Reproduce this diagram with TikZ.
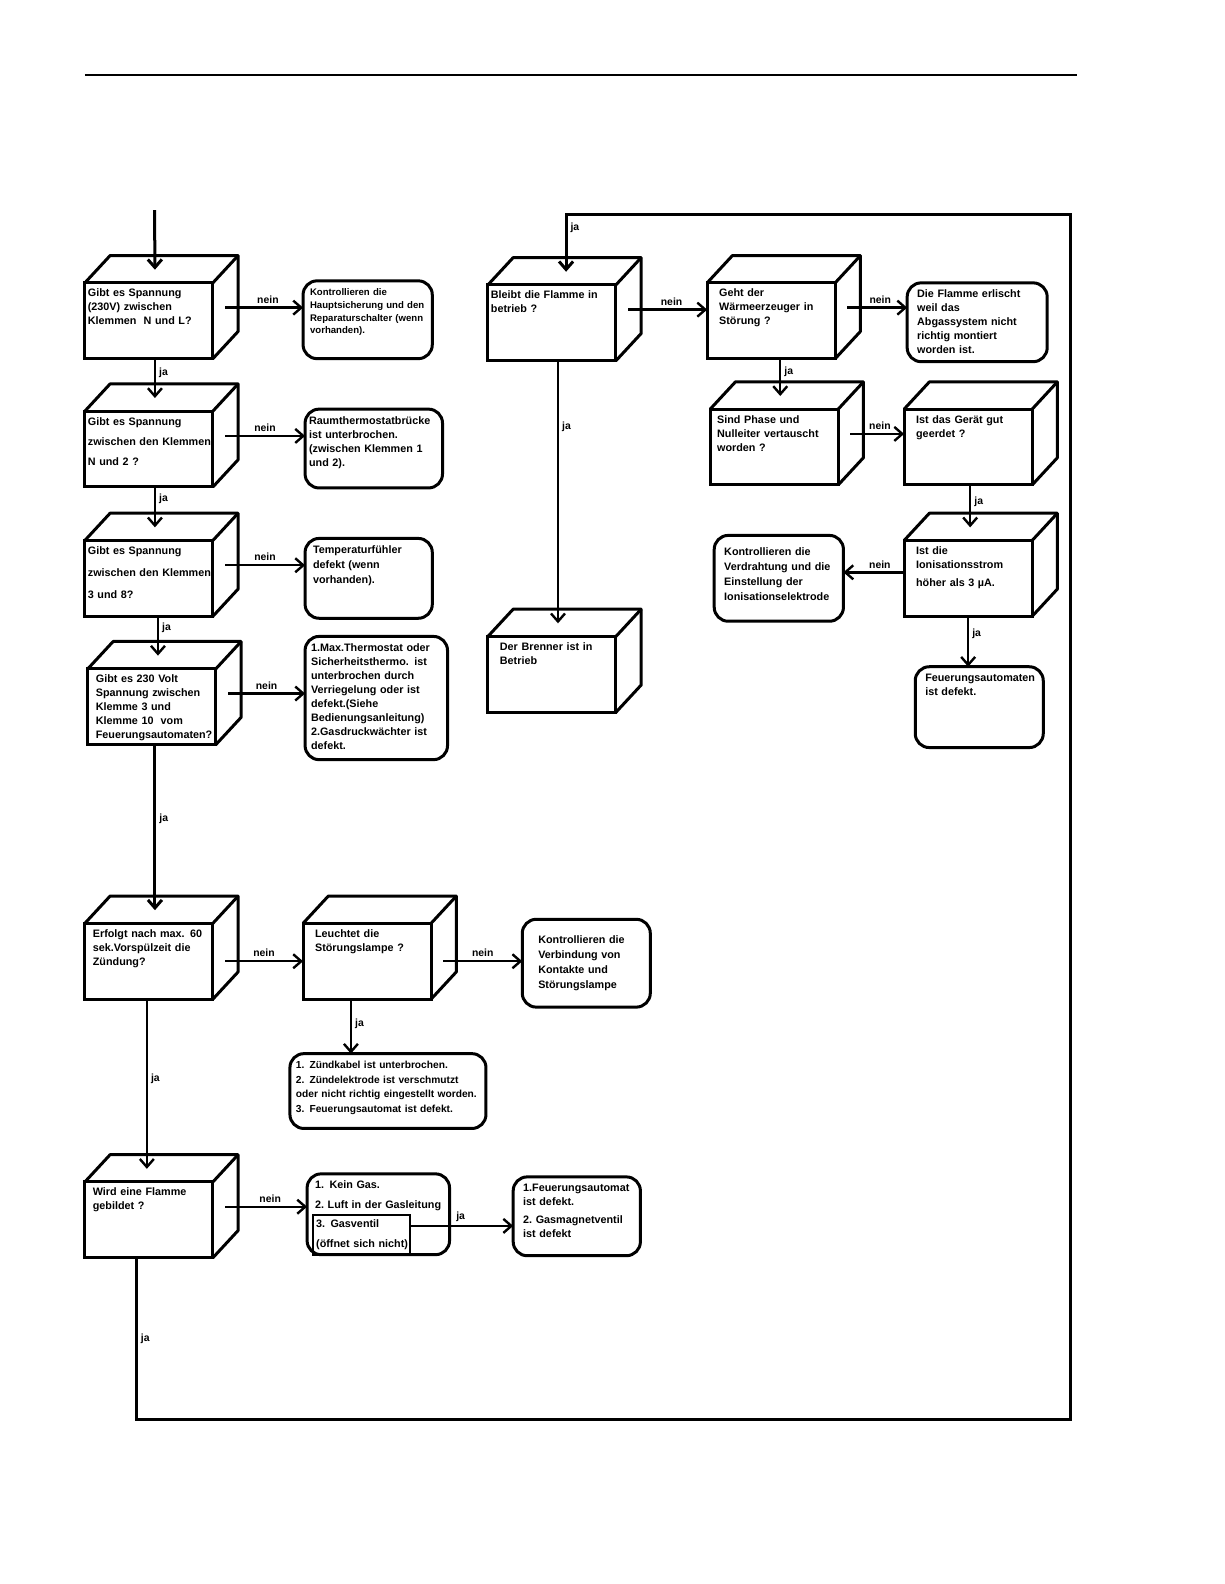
\documentclass[tikz,border=0pt]{standalone}
\usepackage{fontspec}
\setmainfont{Liberation Sans}
\usetikzlibrary{arrows.meta}

\newcommand{\boxfont}{\fontsize{5.4}{7}\selectfont\bfseries\hyphenpenalty=10000 }
\newcommand{\lblfont}{\fontsize{5.2}{6}\selectfont\bfseries}
% top and side face of a cube node
\newcommand{\cubefaces}[1]{%
  \draw[cubeline] (#1.north west) -- ++(25,-27) -- ([shift={(25,-27)}]#1.north east)
    -- ([shift={(25,-27)}]#1.south east) -- (#1.south east);
  \draw[cubeline] (#1.north east) -- ++(25,-27);}

\begin{document}
\begin{tikzpicture}[
    x=0.505pt, y=-0.505pt,
    cube/.style={draw, line width=1.5pt, outer sep=0pt, anchor=north west, align=left, text width=61pt, inner xsep=1.5pt, inner ysep=2.5pt, text height=4.5pt, text depth=28.4pt, font=\boxfont},
    cubein/.style={cube, inner xsep=6pt, text width=52pt},
    cubeline/.style={line width=1.5pt, line join=round},
    result/.style={draw, line width=1.5pt, rounded corners=7pt, outer sep=0pt, anchor=north west, align=left, inner xsep=3pt, inner ysep=3pt, text height=4.5pt, font=\boxfont},
    lbl/.style={font=\lblfont, inner sep=1.5pt},
    arr/.style={-{Straight Barb[length=4pt,width=7pt]}, line width=1.2pt}
]
\useasboundingbox (0,0) rectangle (1212,1568);

% Top rule
\draw[line width=1pt] (84,74) -- (1066,74);

% Left column questions
\node[cube] (q1) at (84,280) {Gibt es Spannung\\(230V) zwischen\\Klemmen~~N und L?};
\node[cube] (q2) at (84,407) {Gibt es Spannung\\[3pt]zwischen~den~Klemmen\\[3pt]N und 2 ?};
\node[cube] (q3) at (84,535) {Gibt es Spannung\\[4pt]zwischen~den~Klemmen\\[4pt]3 und 8?};
\node[cube, inner xsep=4pt, text width=56pt] (q4) at (87,662) {Gibt es 230 Volt\\Spannung zwischen\\Klemme 3 und\\Klemme 10~~vom\\Feuerungsautomaten?};
\node[cube, inner xsep=4pt, text width=56pt] (q5) at (84,914) {Erfolgt nach max. 60\\sek.Vorspülzeit die\\Zündung?};
\node[cubein] (q6) at (300,914) {Leuchtet die\\Störungslampe ?};
\node[cube, inner xsep=4pt, text width=56pt] (q7) at (84,1170) {Wird eine Flamme\\gebildet ?};
\cubefaces{q1} \cubefaces{q2} \cubefaces{q3} \cubefaces{q4}
\cubefaces{q5} \cubefaces{q6} \cubefaces{q7}

% Right part questions
\node[cube] (q8) at (483,282) {Bleibt die Flamme in\\betrieb ?};
\node[cubein] (q9) at (700,280) {Geht der\\Wärmeerzeuger in\\Störung ?};
\node[cubein] (q10) at (483,630) {Der Brenner ist in\\Betrieb};
\node[cube, inner xsep=3.5pt, text width=57pt] (q11) at (703,405) {Sind Phase und\\Nulleiter vertauscht\\worden ?};
\node[cubein] (q12) at (895,405) {Ist das Gerät gut\\geerdet ?};
\node[cubein] (q13) at (895,535) {Ist die\\Ionisationsstrom\\[2pt]höher als 3 µA.};
\cubefaces{q8} \cubefaces{q9} \cubefaces{q10} \cubefaces{q11}
\cubefaces{q12} \cubefaces{q13}

% Answers
\node[result, inner xsep=3.5pt, text width=57.6pt, text depth=28.4pt, font=\fontsize{4.8}{6.3}\selectfont\bfseries] (r1) at (300,278) {Kontrollieren die\\Hauptsicherung~und~den\\Reparaturschalter~(wenn\\vorhanden).};
\node[result, inner xsep=2pt, text width=64.7pt, text depth=28.9pt] (r2) at (302,405) {Raumthermostatbrücke\\ist unterbrochen.\\(zwischen Klemmen 1\\und 2).};
\node[result, inner xsep=4pt, text width=55.6pt, text depth=29.4pt, font=\fontsize{5.4}{7.5}\selectfont\bfseries] (r3) at (302,533) {Temperaturfühler\\defekt (wenn\\vorhanden).};
\node[result, text width=65.2pt, text depth=51.1pt] (r4) at (302,630) {1.Max.Thermostat oder\\Sicherheitsthermo. ist\\unterbrochen durch\\Verriegelung oder ist\\defekt.(Siehe\\Bedienungsanleitung)\\2.Gasdruckwächter ist\\defekt.};
\node[result, inner xsep=8pt, text width=48pt, text depth=28.9pt, text height=9pt, font=\fontsize{5.4}{7.5}\selectfont\bfseries] (r6) at (517,910) {Kontrollieren die\\Verbindung von\\Kontakte und\\Störungslampe};
\node[result, text width=92pt, text depth=26.9pt, font=\fontsize{5.1}{7.3}\selectfont\bfseries] (r7) at (287,1043) {1. Zündkabel ist unterbrochen.\\2. Zündelektrode ist verschmutzt\\oder~nicht~richtig~eingestellt~worden.\\3. Feuerungsautomat ist defekt.};
\node[result, inner xsep=4pt, text width=63.2pt, text depth=29.9pt] (r8) at (304,1162) {1. Kein Gas.\\[3pt]2.~Luft~in~der~Gasleitung};
\node[draw, line width=1.2pt, outer sep=0pt, anchor=north west, align=left, inner xsep=1.5pt, inner ysep=1.5pt, text width=45.5pt, text height=4.5pt, text depth=12.2pt, font=\boxfont] (r8c) at (310,1203) {3. Gasventil\\[3pt](öffnet~sich~nicht)};
\node[result, inner xsep=5pt, text width=53.6pt, text depth=28.9pt] (r9) at (508,1165) {1.Feuerungsautomat\\ist defekt.\\[2pt]2.~Gasmagnetventil\\ist defekt};
\node[result, inner xsep=5pt, text width=60pt, text depth=28.9pt] (r10) at (898,280) {Die Flamme erlischt\\weil das\\Abgassystem nicht\\richtig montiert\\worden ist.};
\node[result, inner xsep=5pt, text width=54.6pt, text depth=29.9pt, text height=7pt, font=\fontsize{5.4}{7.5}\selectfont\bfseries] (r11) at (707,530) {Kontrollieren die\\Verdrahtung~und~die\\Einstellung der\\Ionisationselektrode};
\node[result, inner xsep=5pt, text width=54pt, text depth=29.9pt] (r12) at (906,660) {Feuerungsautomaten\\ist defekt.};

% Connector ends
\coordinate (start) at (153,208);
\coordinate (lp1) at (135,1405);
\coordinate (lp2) at (1060,212);
\coordinate (q1t) at ([shift={(6,-13)}]q1.north);
\coordinate (q2t) at ([shift={(6,-13)}]q2.north);
\coordinate (q3t) at ([shift={(6,-13)}]q3.north);
\coordinate (q4t) at ([shift={(6,-13)}]q4.north);
\coordinate (q5t) at ([shift={(6,-13)}]q5.north);
\coordinate (q7t) at ([shift={(-2,-13)}]q7.north);
\coordinate (q8t) at ([shift={(14,-13)}]q8.north);
\coordinate (q10t) at ([shift={(6,-13)}]q10.north);
\coordinate (q11t) at ([shift={(6,-13)}]q11.north);
\coordinate (q13t) at ([shift={(2,-13)}]q13.north);
\coordinate (q1s) at ([shift={(12,-13)}]q1.east);
\coordinate (q2s) at ([shift={(12,-13)}]q2.east);
\coordinate (q3s) at ([shift={(12,-13)}]q3.east);
\coordinate (q4s) at ([shift={(12,-13)}]q4.east);
\coordinate (q5s) at ([shift={(12,0)}]q5.east);
\coordinate (q6s) at ([shift={(12,0)}]q6.east);
\coordinate (q6b) at ([shift={(-16,0)}]q6.south);
\coordinate (q7s) at ([shift={(12,-13)}]q7.east);
\coordinate (q8s) at ([shift={(12,-13)}]q8.east);
\coordinate (q9s) at ([shift={(12,-13)}]q9.east);
\coordinate (q11s) at ([shift={(12,-13)}]q11.east);
\coordinate (q13w) at ([shift={(0,-6)}]q13.west);
\coordinate (r8e) at ([shift={(0,-9)}]r8c.east);

% ja paths
\draw[arr, line width=1.5pt] (start) -- (q1t);
\draw[arr] (q2t |- q1.south) -- node[lbl, right, pos=0.35] (j1) {ja} (q2t);
\draw[arr] (q3t |- q2.south) -- node[lbl, right, pos=0.3] (j2) {ja} (q3t);
\draw[arr] (q4t |- q3.south) -- node[lbl, right, pos=0.3] (j3) {ja} (q4t);
\draw[arr, line width=1.5pt] (q5t |- q4.south) -- node[lbl, right, pos=0.45] (j4) {ja} (q5t);
\draw[arr] (q7t |- q5.south) -- node[lbl, right, pos=0.47] (j5) {ja} (q7t);
\draw[arr] (q6b) -- node[lbl, right, pos=0.45] (j6) {ja} (q6b |- r7.north);
\draw[arr] (r8e) -- node[lbl, above, pos=0.49] (j7) {ja} (r8e -| r9.west);
\draw[arr, line width=1.5pt] (q7.south -| lp1) -- node[lbl, right, pos=0.5] (j8) {ja} (lp1) -| (lp2) -| node[lbl, right, pos=0.62] (j9) {ja} (q8t);
\draw[arr] (q10t |- q8.south) -- node[lbl, right, pos=0.25] (j10) {ja} (q10t);
\draw[arr] (q11t |- q9.south) -- node[lbl, right, pos=0.35] (j11) {ja} (q11t);
\draw[arr] (q13t |- q12.south) -- node[lbl, right, pos=0.4] (j12) {ja} (q13t);
\draw[arr] (q13.south) -- node[lbl, right, pos=0.35] (j13) {ja} (q13.south |- r12.north);

% nein paths
\draw[arr] (q1s) -- node[lbl, above, pos=0.55] (n1) {nein} (q1s -| r1.west);
\draw[arr] (q2s) -- node[lbl, above, pos=0.5] (n2) {nein} (q2s -| r2.west);
\draw[arr] (q3s) -- node[lbl, above, pos=0.5] (n3) {nein} (q3s -| r3.west);
\draw[arr] (q4s) -- node[lbl, above, pos=0.5] (n4) {nein} (q4s -| r4.west);
\draw[arr] (q5s) -- node[lbl, above, pos=0.5] (n5) {nein} (q5s -| q6.west);
\draw[arr] (q6s) -- node[lbl, above, pos=0.5] (n6) {nein} (q6s -| r6.west);
\draw[arr] (q7s) -- node[lbl, above, pos=0.55] (n7) {nein} (q7s -| r8.west);
\draw[arr] (q8s) -- node[lbl, above, pos=0.55] (n8) {nein} (q8s -| q9.west);
\draw[arr] (q9s) -- node[lbl, above, pos=0.55] (n9) {nein} (q9s -| r10.west);
\draw[arr] (q11s) -- node[lbl, above, pos=0.55] (n10) {nein} (q11s -| q12.west);
\draw[arr] (q13w) -- node[lbl, above, pos=0.4] (n11) {nein} (q13w -| r11.east);

\end{tikzpicture}
\end{document}
